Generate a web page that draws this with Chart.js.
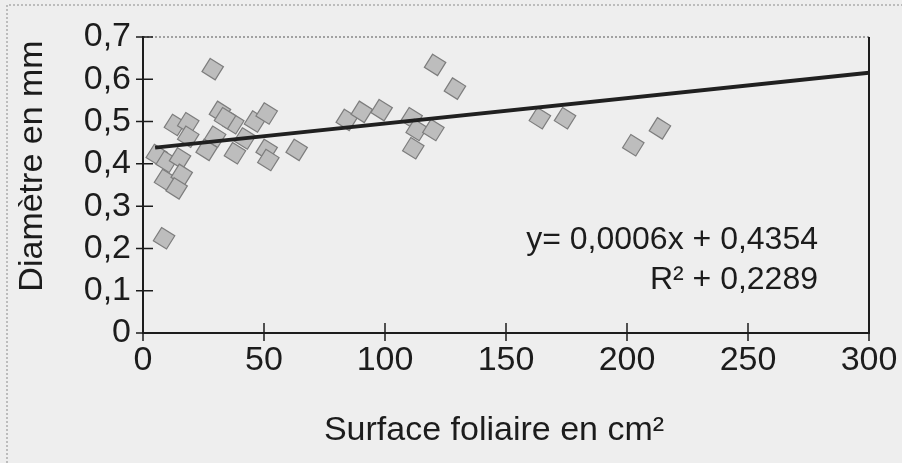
<!DOCTYPE html>
<html>
<head>
<meta charset="utf-8">
<script src="https://cdn.jsdelivr.net/npm/chart.js@4.4.1/dist/chart.umd.min.js"></script>
<style>
  body { margin: 0; background: #eeeeee; }
  #wrap { width: 902px; height: 463px; }
</style>
</head>
<body>
<div id="wrap"><canvas id="chart" width="902" height="463"></canvas></div>
<script>
//************ Data */
const surface = [28.8, 31.8, 29.8, 13.2, 18.7, 18.7, 37.3, 46.3, 51.1, 42.1, 26.3, 38.0,
                 51.1, 51.8, 63.5, 5.7, 9.8, 15.3, 9.1, 16.0, 13.9, 8.7, 33.9,
                 84.2, 90.4, 98.6, 111, 113.1, 120, 111.7, 120.7, 128.9,
                 164, 174.4, 213.6, 202.6];
const diametre = [0.624, 0.523, 0.464, 0.492, 0.496, 0.464, 0.496, 0.500, 0.519, 0.460, 0.433, 0.425,
                  0.433, 0.409, 0.433, 0.421, 0.405, 0.413, 0.362, 0.374, 0.342, 0.224, 0.508,
                  0.504, 0.523, 0.527, 0.508, 0.480, 0.480, 0.437, 0.634, 0.578,
                  0.508, 0.508, 0.484, 0.444];

// regression line ends (y = 0,0006x + 0,4354)
const trendX = [5, 300];
const trendY = [0.4384, 0.6154];

const xTickLabels = ['0', '50', '100', '150', '200', '250', '300'];
const yTickLabels = ['0', '0,1', '0,2', '0,3', '0,4', '0,5', '0,6', '0,7'];

const xTitle = 'Surface foliaire en cm²';
const yTitle = 'Diamètre en mm';
const eqLine1 = 'y= 0,0006x + 0,4354';
const eqLine2 = 'R² + 0,2289';

const FONT = '"Liberation Sans", Arial, sans-serif';
const INK = '#1c1c1c';

//******** Chart conf */
const points = surface.map((v, i) => ({ x: v, y: diametre[i] }));
const trend = trendX.map((v, i) => ({ x: v, y: trendY[i] }));

const decor = {
    id: 'decor',
    beforeDraw(chart) {
        const ctx = chart.ctx;
        ctx.save();
        ctx.fillStyle = '#eeeeee';
        ctx.fillRect(0, 0, chart.width, chart.height);
        // outer dotted frame of the scan
        ctx.strokeStyle = '#8a8a8a';
        ctx.lineWidth = 1;
        ctx.setLineDash([2, 2]);
        ctx.beginPath();
        ctx.moveTo(7, chart.height);
        ctx.lineTo(7, 5);
        ctx.lineTo(chart.width, 5);
        ctx.stroke();
        ctx.restore();
    },
    afterDraw(chart) {
        const ctx = chart.ctx;
        const a = chart.chartArea;
        const xs = chart.scales.x, ys = chart.scales.y;
        ctx.save();
        // top dotted border
        ctx.strokeStyle = '#555';
        ctx.lineWidth = 1;
        ctx.setLineDash([2, 2]);
        ctx.beginPath();
        ctx.moveTo(a.left, a.top);
        ctx.lineTo(a.right, a.top);
        ctx.stroke();
        ctx.setLineDash([]);
        // right solid border
        ctx.strokeStyle = INK;
        ctx.lineWidth = 2;
        ctx.beginPath();
        ctx.moveTo(a.right, a.top);
        ctx.lineTo(a.right, a.bottom);
        ctx.stroke();
        // crossing ticks
        ctx.lineWidth = 1.5;
        ctx.beginPath();
        ys.ticks.forEach(t => {
            const py = ys.getPixelForValue(t.value);
            ctx.moveTo(a.left - 7, py);
            ctx.lineTo(a.left + 10, py);
        });
        xs.ticks.forEach(t => {
            const px = xs.getPixelForValue(t.value);
            ctx.moveTo(px, a.bottom - 10);
            ctx.lineTo(px, a.bottom + 8);
        });
        ctx.stroke();
        // titles
        ctx.fillStyle = INK;
        ctx.font = '34px ' + FONT;
        ctx.textAlign = 'center';
        ctx.textBaseline = 'middle';
        ctx.fillText(xTitle, 494, 431);
        ctx.save();
        ctx.translate(33, 166);
        ctx.rotate(-Math.PI / 2);
        ctx.fillText(yTitle, 0, 0);
        ctx.restore();
        // equation
        ctx.font = '32px ' + FONT;
        ctx.textAlign = 'right';
        ctx.fillText(eqLine1, 818, 240);
        ctx.fillText(eqLine2, 818, 280);
        ctx.restore();
    }
};

const config = {
    type: 'scatter',
    data: {
        datasets: [{
            type: 'line',
            label: 'Tendance',
            data: trend,
            borderColor: '#202020',
            borderWidth: 4,
            pointRadius: 0,
            fill: false,
            order: 0
        }, {
            label: 'Mesures',
            data: points,
            pointStyle: 'rect',
            rotation: 32,
            pointRadius: 11,
            pointBackgroundColor: '#bdbdbd',
            pointBorderColor: '#7d7d7d',
            pointBorderWidth: 1.2,
            order: 1
        }]
    },
    options: {
        responsive: false,
        animation: false,
        layout: { padding: { top: 37, right: 33, left: 0, bottom: 0 } },
        plugins: {
            legend: { display: false },
            tooltip: { enabled: false }
        },
        scales: {
            x: {
                type: 'linear',
                min: 0,
                max: 300,
                afterFit: s => { s.height = 130; s.paddingRight = 0; },
                afterBuildTicks: s => { s.ticks = xTickLabels.map((l, i) => ({ value: i * 50 })); },
                ticks: {
                    autoSkip: false,
                    callback: (v, i) => xTickLabels[i],
                    color: INK,
                    font: { family: FONT, size: 34 },
                    padding: 7,
                    maxRotation: 0
                },
                grid: { display: false, drawTicks: false },
                border: { display: true, color: INK, width: 2 }
            },
            y: {
                min: 0,
                max: 0.7,
                afterFit: s => { s.width = 143; s.paddingTop = 0; },
                afterBuildTicks: s => { s.ticks = yTickLabels.map((l, i) => ({ value: i / 10 })); },
                ticks: {
                    autoSkip: false,
                    callback: (v, i) => yTickLabels[i],
                    color: INK,
                    font: { family: FONT, size: 34 },
                    padding: 12
                },
                grid: { display: false, drawTicks: false },
                border: { display: true, color: INK, width: 2 }
            }
        }
    },
    plugins: [decor]
};

const ctx = document.getElementById('chart').getContext('2d');
const myChart = new Chart(ctx, config);
</script>
</body>
</html>
